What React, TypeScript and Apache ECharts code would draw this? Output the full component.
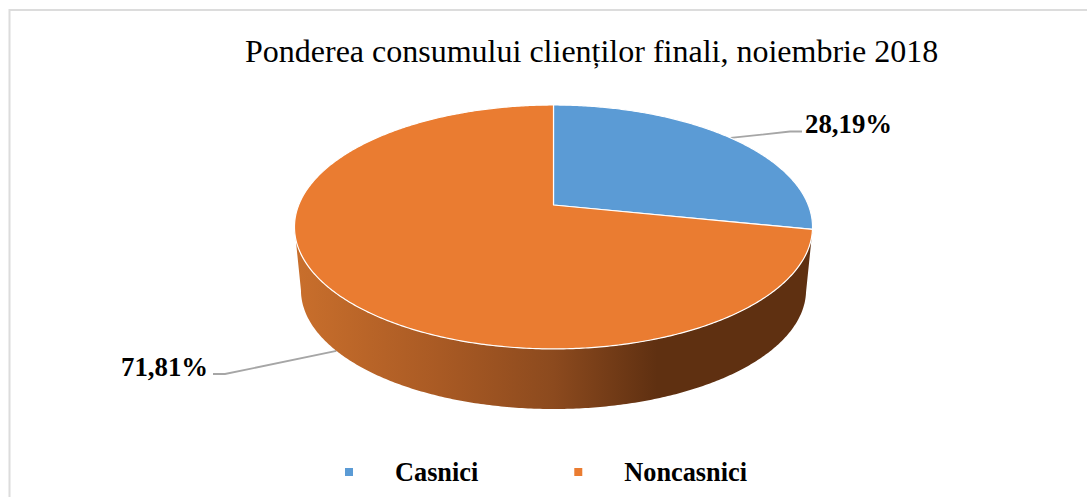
import React, { useEffect, useRef } from "react";
import * as echarts from "echarts";

const titleText = "Ponderea consumului clienților finali, noiembrie 2018";
const categories = ["Casnici", "Noncasnici"];
const shares = [28.19, 71.81];
const sliceColors = ["#5b9bd5", "#ea7c31"];

const serif = '"Liberation Serif", "Times New Roman", serif';

// Pie projection (perspective view of a circular disc)
const CX = 553.5;
const APEX_Y = 205;
const SCALE_X = 254.8;
const SCALE_Y = 118;
const PERSPECTIVE = 0.18;
const DEPTH = 63.7;
const BOTTOM_SCALE = 0.975;
const FULL = Math.PI * 2;
const TANGENT = Math.acos(-PERSPECTIVE);

function project(theta: number, bottom: boolean): number[] {
  const x = Math.sin(theta);
  const y = -Math.cos(theta);
  const w = 1 - PERSPECTIVE * y;
  const f = bottom ? BOTTOM_SCALE : 1;
  return [CX + (SCALE_X * f * x) / w, APEX_Y + (bottom ? DEPTH : 0) + (SCALE_Y * f * y) / w];
}

function arc(from: number, to: number, bottom: boolean): number[][] {
  const n = Math.max(2, Math.ceil(Math.abs(to - from) / 0.01));
  const pts: number[][] = [];
  for (let i = 0; i <= n; i++) pts.push(project(from + ((to - from) * i) / n, bottom));
  return pts;
}

const total = shares.reduce((a, b) => a + b, 0);

function sliceRange(index: number): number[] {
  let start = 0;
  for (let i = 0; i < index; i++) start += shares[i];
  return [(start / total) * FULL, ((start + shares[index]) / total) * FULL];
}

const wallGradient = () =>
  new echarts.graphic.LinearGradient(0, 0, 1, 0, [
    { offset: 0, color: "#c96f2c" },
    { offset: 0.28, color: "#a95a24" },
    { offset: 0.5, color: "#8c4a1e" },
    { offset: 0.7, color: "#5f3011" },
    { offset: 1, color: "#5f3011" },
  ]);

const labelPlacement = [
  { bend: [790, 131.5], end: [802, 131.5], x: 805, y: 123.5, onBottom: false },
  { bend: [225, 374], end: [213, 374], x: 121, y: 367, onBottom: true },
];

function makeRender(index: number) {
  return () => {
    const [start, end] = sliceRange(index);
    const mid = (start + end) / 2;
    const place = labelPlacement[index];
    const children: any[] = [];
    children.push({
      type: "polyline",
      shape: { points: [project(mid, place.onBottom), place.bend, place.end] },
      style: { stroke: "#a6a6a6", lineWidth: 1.8, fill: "none" },
    });
    const wallFrom = Math.max(start, TANGENT);
    const wallTo = Math.min(end, FULL - TANGENT);
    if (wallTo - wallFrom > 0.1) {
      children.push({
        type: "polygon",
        shape: { points: [...arc(wallFrom, wallTo, false), ...arc(wallTo, wallFrom, true)] },
        style: { fill: wallGradient() },
      });
    }
    children.push({
      type: "polygon",
      shape: { points: [[CX, APEX_Y], ...arc(start, end, false)] },
      style: { fill: sliceColors[index], stroke: "#ffffff", lineWidth: 1.2, lineJoin: "round" },
    });
    children.push({
      type: "text",
      style: {
        text: shares[index].toFixed(2).replace(".", ",") + "%",
        x: place.x,
        y: place.y,
        font: `bold 26.8px ${serif}`,
        fill: "#000000",
        textVerticalAlign: "middle",
      },
    });
    return { type: "group", children };
  };
}

export default function App() {
  const ref = useRef<HTMLDivElement>(null);
  useEffect(() => {
    const chart = echarts.init(ref.current!, undefined, { renderer: "svg" });
    chart.setOption({
      animation: false,
      backgroundColor: "#ffffff",
      title: {
        text: titleText,
        left: 240,
        top: 30,
        textStyle: { fontFamily: serif, fontSize: 32, fontWeight: "normal", color: "#000000" },
      },
      legend: {
        left: 340,
        top: 454,
        icon: "rect",
        itemWidth: 8,
        itemHeight: 8,
        itemGap: 96,
        data: categories,
        textStyle: {
          fontFamily: serif,
          fontSize: 26.3,
          fontWeight: "bold",
          color: "#000000",
          padding: [0, 0, 0, 37],
        },
        selectedMode: false,
      },
      graphic: [
        {
          type: "rect",
          silent: true,
          shape: { x: 9.5, y: 10, width: 1200, height: 600 },
          style: { fill: "none", stroke: "#dcdcdc", lineWidth: 2 },
        },
      ],
      series: categories.map((name, i) => ({
        type: "custom",
        name,
        coordinateSystem: "none",
        silent: true,
        itemStyle: { color: sliceColors[i] },
        data: [[shares[i]]],
        renderItem: makeRender(i),
      })),
    });
    return () => chart.dispose();
  }, []);
  return <div ref={ref} style={{ position: "fixed", left: 0, top: 0, width: 1087, height: 497 }} />;
}
